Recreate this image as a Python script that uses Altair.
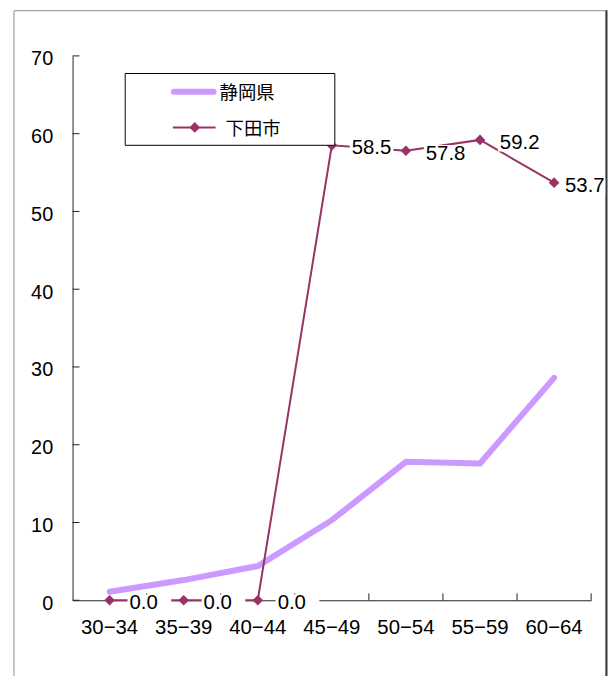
import altair as alt
import pandas as pd

# ---- data ----
ages = ["30−34", "35−39", "40−44", "45−49", "50−54", "55−59", "60−64"]
shizuoka = [1.1, 2.6, 4.4, 10.3, 17.8, 17.6, 28.6]
shimoda = [0.0, 0.0, 0.0, 58.5, 57.8, 59.2, 53.7]
y_ticks = [0, 10, 20, 30, 40, 50, 60, 70]
legend_names = ["静岡県", "下田市"]

LAV = "#CC99FF"
MAR = "#993366"
NUM_FONT = "Liberation Sans"
CJK_FONT = "Noto Sans CJK JP"

df = pd.DataFrame({"age": ages, "shizuoka": shizuoka, "shimoda": shimoda})
ticks_df = pd.DataFrame({"v": y_ticks})
one = pd.DataFrame({"k": [0]})
leg_df = pd.DataFrame({"name": legend_names})

W, H = 522, 548

xscale = alt.Scale(type="band", domain=ages, paddingInner=0, paddingOuter=0)
yscale = alt.Scale(domain=[0, 70], nice=False, zero=True)
xaxis = alt.Axis(title=None, labelAngle=0, ticks=False, tickSize=0, labelPadding=17,
                 labelFont=NUM_FONT, labelFontSize=20.5, labelColor="black",
                 domainColor="#222222", domainWidth=1, grid=False, labelBaseline="top")
yaxis = alt.Axis(title=None, values=y_ticks, ticks=False, tickSize=0, labelPadding=20,
                 labelFont=NUM_FONT, labelFontSize=20, labelColor="black",
                 domainColor="#222222", domainWidth=1, grid=False, labelOffset=3)


def X(bp=0.5):
    return alt.X("age:N", scale=xscale, axis=xaxis, bandPosition=bp)


def Y(field):
    return alt.Y(field, type="quantitative", scale=yscale, axis=yaxis)


base = alt.Chart(df)

# outer frame
frame = alt.Chart(one).mark_rect(fillOpacity=0, stroke="#8c8c8c", strokeWidth=1).encode(
    x=alt.value(-59), x2=alt.value(537), y=alt.value(-45.5), y2=alt.value(660)
)
frame_edge = alt.Chart(one).mark_rule(color="#3a3a3a", strokeWidth=2).encode(
    x=alt.value(537.5), y=alt.value(-46), y2=alt.value(660)
)

# inward tick marks
ytick_marks = alt.Chart(ticks_df).mark_rule(color="#222222", strokeWidth=1).encode(
    x=alt.value(0), x2=alt.value(7), y=Y("v")
)
xtick_marks = base.mark_rule(color="#222222", strokeWidth=1).encode(
    x=X(1), y=alt.value(H - 7), y2=alt.value(H)
)

line_sz = base.mark_line(color=LAV, strokeWidth=6, strokeCap="round").encode(
    x=X(), y=Y("shizuoka")
)
line_sm = base.mark_line(color=MAR, strokeWidth=2).encode(x=X(), y=Y("shimoda"))
pts_sm = base.mark_point(shape="diamond", filled=True, size=115, color=MAR, opacity=1).encode(
    x=X(), y=Y("shimoda")
)

box_path = "M0,-0.2L1,-0.2L1,0.2L0,0.2Z"
not_last = alt.datum.age != ages[-1]
is_last = alt.datum.age == ages[-1]

lab_boxes = base.transform_filter(not_last).mark_point(
    shape=box_path, filled=True, fill="white", size=7744, opacity=1, strokeWidth=0, xOffset=18, yOffset=3
).encode(x=X(), y=Y("shimoda"))
lab_box_last = base.transform_filter(is_last).mark_point(
    shape=box_path, filled=True, fill="white", size=7744, opacity=1, strokeWidth=0, xOffset=9, yOffset=3
).encode(x=X(), y=Y("shimoda"))

labels = base.transform_filter(not_last).mark_text(
    align="left", baseline="middle", dx=20, dy=3, font=NUM_FONT, fontSize=20.5, color="black"
).encode(x=X(), y=Y("shimoda"), text=alt.Text("shimoda:Q", format=".1f"))
label_last = base.transform_filter(is_last).mark_text(
    align="left", baseline="middle", dx=11, dy=3, font=NUM_FONT, fontSize=20.5, color="black"
).encode(x=X(), y=Y("shimoda"), text=alt.Text("shimoda:Q", format=".1f"))

# legend box
leg_box = alt.Chart(one).mark_rect(fill="white", stroke="black", strokeWidth=1).encode(
    x=alt.value(53), x2=alt.value(264), y=alt.value(17.7), y2=alt.value(90)
)
leg_l1 = alt.Chart(one).mark_rule(color=LAV, strokeWidth=6, strokeCap="round").encode(
    x=alt.value(102), x2=alt.value(142), y=alt.value(36)
)
leg_l2 = alt.Chart(one).mark_rule(color=MAR, strokeWidth=2).encode(
    x=alt.value(101), x2=alt.value(144), y=alt.value(72)
)
leg_p2 = alt.Chart(one).mark_point(shape="diamond", filled=True, size=115, color=MAR, opacity=1).encode(
    x=alt.value(123), y=alt.value(72)
)
leg_t1 = alt.Chart(leg_df).transform_filter(alt.datum.name == legend_names[0]).mark_text(
    align="left", baseline="middle", font=CJK_FONT, fontSize=18.5, color="black"
).encode(x=alt.value(148), y=alt.value(37.5), text="name:N")
leg_t2 = alt.Chart(leg_df).transform_filter(alt.datum.name == legend_names[1]).mark_text(
    align="left", baseline="middle", font=CJK_FONT, fontSize=18.5, color="black"
).encode(x=alt.value(154), y=alt.value(74), text="name:N")

chart = alt.layer(
    frame, ytick_marks, xtick_marks, line_sz, line_sm, pts_sm,
    lab_boxes, lab_box_last, labels, label_last,
    leg_box, leg_l1, leg_l2, leg_p2, leg_t1, leg_t2, frame_edge
).properties(
    width=W, height=H,
    padding={"left": 65, "top": 46, "right": 17, "bottom": 74},
    autosize=alt.AutoSizeParams(type="none"),
).configure_view(stroke=None)

chart.save("out.html", embed_options={"renderer": "svg", "actions": False})
